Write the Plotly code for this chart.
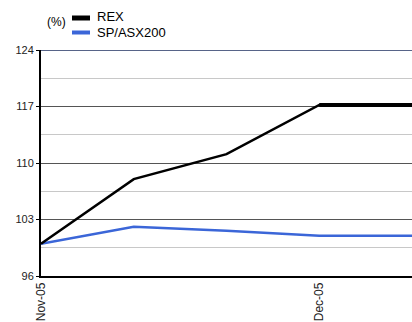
import plotly.graph_objects as go

dates = ["2005-11-01", "2005-11-11", "2005-11-21", "2005-12-01", "2005-12-11"]
rex = [100.0, 108.0, 111.1, 117.2, 117.2]
asx = [100.0, 102.1, 101.6, 101.0, 101.0]
tick_dates = ["2005-11-01", "2005-12-01"]
tick_text = ["Nov-05", "Dec-05"]
y_ticks = [96, 103, 110, 117, 124]

FONT = "Liberation Sans, Arial, sans-serif"
BLUE = "#3b66d8"

fig = go.Figure()
fig.add_trace(go.Scatter(x=dates, y=asx, mode="lines", line=dict(color=BLUE, width=2.5),
                         showlegend=False, hoverinfo="skip"))
fig.add_trace(go.Scatter(x=dates, y=rex, mode="lines", line=dict(color="black", width=2.5),
                         showlegend=False, hoverinfo="skip"))
fig.add_trace(go.Scatter(x=dates[-2:], y=rex[-2:], mode="lines", line=dict(color="black", width=4),
                         showlegend=False, hoverinfo="skip"))

L, R, T, B = 41, 412, 50, 276
W, H = R - L, B - T
def px(x):
    return (x - L) / W
def py(y):
    return (B - y) / H

shapes = [
    dict(type="line", xref="paper", yref="y", x0=0, x1=1, y0=124, y1=124,
         line=dict(color="#1f3060", width=1.5)),
    dict(type="line", xref="paper", yref="paper", x0=px(72), x1=px(90), y0=py(18), y1=py(18),
         line=dict(color="black", width=5)),
    dict(type="line", xref="paper", yref="paper", x0=px(72), x1=px(90), y0=py(32.5), y1=py(32.5),
         line=dict(color=BLUE, width=4)),
]
annotations = [
    dict(text="(%)", xref="paper", yref="paper", x=px(68), y=py(22), xanchor="right",
         yanchor="middle", showarrow=False, font=dict(family=FONT, size=12, color="black")),
    dict(text="REX", xref="paper", yref="paper", x=px(95), y=py(16), xanchor="left",
         yanchor="middle", showarrow=False, font=dict(family=FONT, size=13, color="black")),
    dict(text="SP/ASX200", xref="paper", yref="paper", x=px(95), y=py(32), xanchor="left",
         yanchor="middle", showarrow=False, font=dict(family=FONT, size=13, color="black")),
]

fig.update_layout(
    width=412, height=322,
    margin=dict(l=L, r=412 - R, t=T, b=322 - B, pad=0, autoexpand=False),
    paper_bgcolor="white", plot_bgcolor="white",
    font=dict(family=FONT, size=11, color="#222"),
    shapes=shapes, annotations=annotations,
    xaxis=dict(type="date", range=[dates[0], dates[-1]], tickvals=tick_dates, ticktext=tick_text,
               tickangle=-90, showgrid=False, showline=True, linecolor="black", linewidth=1.5,
               ticks="", zeroline=False, tickfont=dict(size=12, color="#222"),
               automargin=False, minor=dict(showgrid=False, ticks="")),
    yaxis=dict(range=[96, 124], tickvals=y_ticks, showgrid=True, gridcolor="#555", gridwidth=1,
               minor=dict(dtick=3.5, tick0=96, showgrid=True, gridcolor="#c8c8c8", gridwidth=1),
               showline=True, linecolor="black", linewidth=2, ticks="outside", ticklen=3,
               tickcolor="black", zeroline=False, tickfont=dict(size=11, color="#222"),
               automargin=False),
)

fig.write_html("out.html")
